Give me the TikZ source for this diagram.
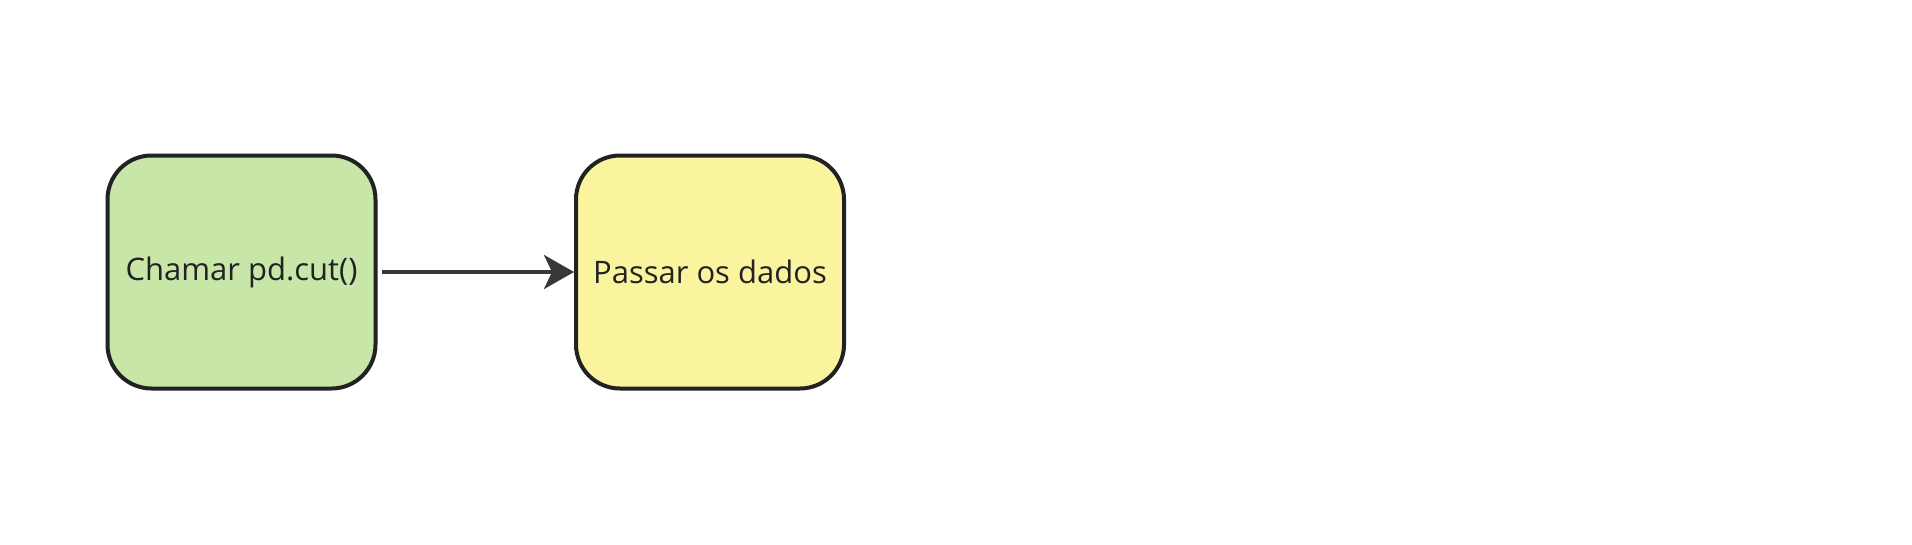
\documentclass[tikz,border=0pt]{standalone}
\usepackage{fontspec}
\setmainfont{Open Sans}
\usetikzlibrary{arrows.meta}
\definecolor{stepgreen}{HTML}{C8E6A8}
\definecolor{stepyellow}{HTML}{FBF49E}
\definecolor{edgegray}{HTML}{222222}
\tikzset{
  stepbox/.style={draw=edgegray, line width=4pt, rounded corners=44pt,
    minimum width=268pt, minimum height=233pt,
    font=\fontsize{31}{37}\selectfont, text=edgegray},
}
\begin{document}
\begin{tikzpicture}[x=1pt, y=1pt, node distance=468.5pt]
      \useasboundingbox[fill=white] (0,0) rectangle (1912,-544);
      \node[stepbox, fill=stepgreen] at (241.5,-272)  (call) {Chamar pd.cut()};
      \node[stepbox, fill=stepyellow, right of=call]  (pass) {Passar os dados};
      \draw[-{Stealth[length=30pt, width=34pt, inset=8pt]}, line width=3.4pt,
            draw=edgegray!90, shorten <=4pt] (call) to (pass);
     \end{tikzpicture}
\end{document}
